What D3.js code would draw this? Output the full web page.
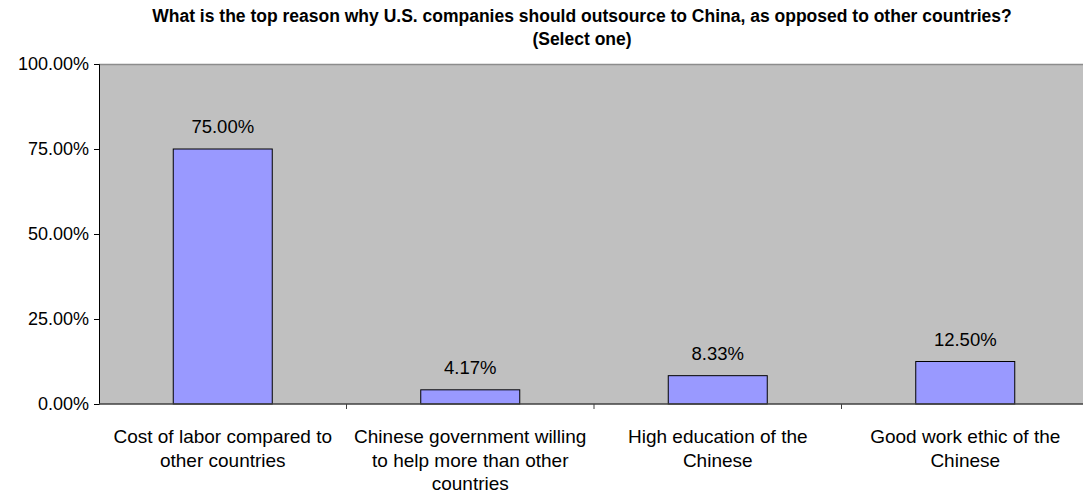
<!DOCTYPE html>
<html>
<head>
<meta charset="utf-8">
<script src="https://cdn.jsdelivr.net/npm/d3@7"></script>
<style>
  body { margin: 0; background: #fff; }
  svg { display: block; font-family: "Liberation Sans", Arial, sans-serif; }
</style>
</head>
<body>
<div id="chart"></div>
<script>
// Survey answers and their shares (%)
const categories = [
  "Cost of labor compared to other countries",
  "Chinese government willing to help more than other countries",
  "High education of the Chinese",
  "Good work ethic of the Chinese"
];
const values = [75.0, 4.17, 8.33, 12.5];
const yTicks = [0, 25, 50, 75, 100];
const titleLines = [
  "What is the top reason why U.S. companies should outsource to China, as opposed to other countries?",
  "(Select one)"
];
// manual line breaks for category labels, as shown in the chart
const labelLines = [
  ["Cost of labor compared to", "other countries"],
  ["Chinese government willing", "to help more than other", "countries"],
  ["High education of the", "Chinese"],
  ["Good work ethic of the", "Chinese"]
];

const width = 1083, height = 492;
const margin = { top: 64, right: -6, bottom: 88, left: 99 };
const innerW = width - margin.left - margin.right;
const innerH = height - margin.top - margin.bottom;

const svg = d3.select("#chart").append("svg")
  .attr("width", width)
  .attr("height", height);

// Title
svg.append("g").selectAll("text")
  .data(titleLines)
  .join("text")
  .attr("x", 582)
  .attr("y", (d, i) => 22 + i * 23)
  .attr("text-anchor", "middle")
  .attr("font-weight", "bold")
  .attr("font-size", 17.5)
  .attr("fill", "#000")
  .text(d => d);

const chart = svg.append("g")
  .attr("transform", `translate(${margin.left},${margin.top})`);

const x = d3.scaleBand().domain(categories).range([0, innerW]).paddingInner(0.6).paddingOuter(0.3);
const band = d3.scaleBand().domain(categories).range([0, innerW]);
const y = d3.scaleLinear().domain([0, 100]).range([innerH, 0]);

// Plot background
chart.append("rect")
  .attr("x", 0).attr("y", 0)
  .attr("width", innerW).attr("height", innerH)
  .attr("fill", "#c0c0c0");

chart.append("line")
  .attr("x1", 0).attr("x2", innerW)
  .attr("y1", 0.5).attr("y2", 0.5)
  .attr("stroke", "#8c8c8c").attr("stroke-width", 1.5);

// Bars
chart.selectAll(".bar")
  .data(values)
  .join("rect")
  .attr("class", "bar")
  .attr("x", (d, i) => x(categories[i]))
  .attr("y", d => y(d))
  .attr("width", x.bandwidth())
  .attr("height", d => innerH - y(d))
  .attr("fill", "#9999ff")
  .attr("stroke", "#000")
  .attr("stroke-width", 1);

// Value labels
chart.selectAll(".val")
  .data(values)
  .join("text")
  .attr("class", "val")
  .attr("x", (d, i) => x(categories[i]) + x.bandwidth() / 2)
  .attr("y", d => y(d) - 16)
  .attr("text-anchor", "middle")
  .attr("font-size", 18.5)
  .attr("fill", "#000")
  .text(d => d.toFixed(2) + "%");

// Y axis
const yAxis = d3.axisLeft(y)
  .tickValues(yTicks)
  .tickSize(5)
  .tickPadding(5)
  .tickFormat(d => d.toFixed(2) + "%");
const yG = chart.append("g").call(yAxis);
yG.select(".domain").attr("stroke", "#000");
yG.selectAll(".tick line").attr("stroke", "#000");
yG.selectAll(".tick text")
  .attr("font-size", 18)
  .attr("font-family", "Liberation Sans, Arial, sans-serif")
  .attr("fill", "#000");

// X axis: baseline and ticks at band boundaries
const xG = chart.append("g").attr("transform", `translate(0,${innerH})`);
xG.append("line")
  .attr("x1", 0).attr("x2", innerW)
  .attr("y1", 0).attr("y2", 0)
  .attr("stroke", "#404040").attr("stroke-width", 1.5);
xG.selectAll(".xt")
  .data(categories.slice(1))
  .join("line")
  .attr("class", "xt")
  .attr("x1", d => band(d)).attr("x2", d => band(d))
  .attr("y1", 0).attr("y2", 5)
  .attr("stroke", "#404040");

xG.selectAll(".xl")
  .data(categories)
  .join("text")
  .attr("class", "xl")
  .attr("text-anchor", "middle")
  .attr("font-size", 19)
  .attr("fill", "#000")
  .attr("transform", d => `translate(${band(d) + band.bandwidth() / 2},0)`)
  .each(function (d, i) {
    d3.select(this).selectAll("tspan")
      .data(labelLines[i])
      .join("tspan")
      .attr("x", 0)
      .attr("y", (t, j) => 39 + j * 23.5)
      .text(t => t);
  });
</script>
</body>
</html>
